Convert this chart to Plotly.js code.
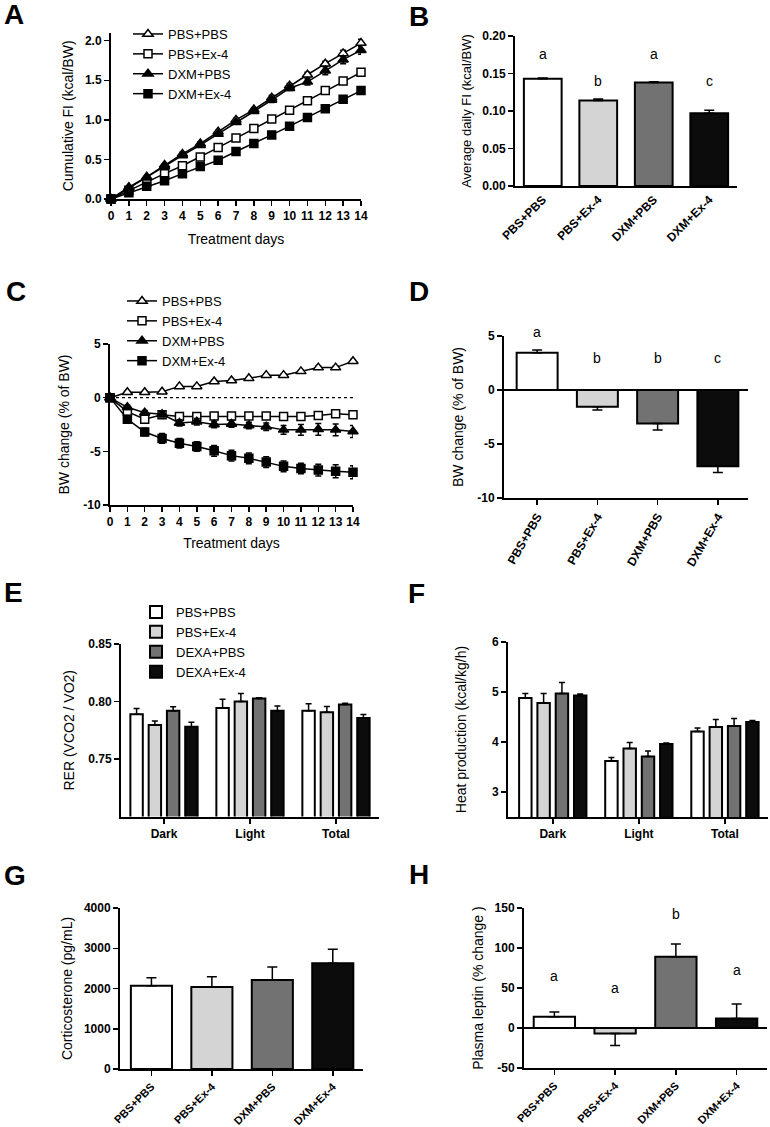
<!DOCTYPE html>
<html><head><meta charset="utf-8">
<script src="https://cdn.plot.ly/plotly-3.0.1.min.js"></script>
<style>html,body{margin:0;padding:0;background:#fff}#chart{width:770px;height:1127px}</style>
</head><body><div id="chart"></div>
<script>
// ---------------- DATA ----------------
const days = [0,1,2,3,4,5,6,7,8,9,10,11,12,13,14];
const dayTickText = ['0','1','2','3','4','5','6','7','8','9','10','11','12','13','14'];
const lineNames = ['PBS+PBS','PBS+Ex-4','DXM+PBS','DXM+Ex-4'];
const groups = ['PBS+PBS','PBS+Ex-4','DXM+PBS','DXM+Ex-4'];
const calNames = ['PBS+PBS','PBS+Ex-4','DEXA+PBS','DEXA+Ex-4'];
const periods = ['Dark','Light','Total'];

// A: cumulative food intake (kcal/BW)
const A_pbs_pbs = [0,0.15,0.28,0.43,0.57,0.70,0.85,1.00,1.13,1.28,1.43,1.57,1.71,1.84,1.97];
const A_pbs_ex4 = [0,0.11,0.21,0.32,0.42,0.53,0.65,0.77,0.89,1.01,1.12,1.24,1.37,1.49,1.60];
const A_dxm_pbs = [0,0.14,0.27,0.41,0.55,0.68,0.82,0.97,1.11,1.25,1.40,1.48,1.62,1.76,1.88];
const A_dxm_ex4 = [0,0.08,0.16,0.23,0.32,0.41,0.49,0.60,0.70,0.81,0.92,1.03,1.14,1.26,1.37];
const A_err_pbs_pbs = [0,0.01,0.01,0.01,0.02,0.02,0.02,0.02,0.02,0.03,0.03,0.03,0.03,0.04,0.05];
const A_err_pbs_ex4 = [0,0.01,0.01,0.01,0.01,0.01,0.01,0.02,0.02,0.02,0.02,0.02,0.02,0.02,0.03];
const A_err_dxm_pbs = [0,0.01,0.01,0.01,0.02,0.02,0.02,0.02,0.02,0.03,0.03,0.04,0.05,0.05,0.05];
const A_err_dxm_ex4 = [0,0.01,0.01,0.01,0.01,0.01,0.01,0.02,0.02,0.02,0.02,0.02,0.03,0.03,0.04];

// B: average daily FI
const B_vals = [0.143,0.114,0.138,0.097];
const B_err = [0.001,0.002,0.001,0.004];
const B_letters = ['a','b','a','c'];
const B_letter_y = [0.189,0.153,0.189,0.153];

// C: BW change (% of BW)
const C_pbs_pbs = [0,0.5,0.5,0.55,1.05,1.05,1.5,1.6,1.8,2.1,2.1,2.45,2.8,2.8,3.4];
const C_pbs_ex4 = [0,-1.3,-2.0,-1.6,-1.75,-1.75,-1.7,-1.7,-1.7,-1.7,-1.75,-1.75,-1.65,-1.5,-1.6];
const C_dxm_pbs = [0,-0.9,-1.4,-1.55,-2.35,-2.25,-2.5,-2.45,-2.6,-2.7,-3.0,-3.0,-2.95,-3.0,-3.15];
const C_dxm_ex4 = [0,-2.0,-3.2,-3.8,-4.25,-4.55,-4.95,-5.4,-5.65,-6.0,-6.4,-6.6,-6.75,-6.85,-6.95];
const C_err_pbs_pbs = [0,0.1,0.1,0.1,0.1,0.1,0.1,0.1,0.1,0.1,0.1,0.1,0.15,0.15,0.15];
const C_err_pbs_ex4 = [0,0.2,0.2,0.2,0.2,0.2,0.2,0.2,0.2,0.2,0.2,0.2,0.25,0.25,0.25];
const C_err_dxm_pbs = [0,0.2,0.2,0.25,0.3,0.3,0.3,0.3,0.3,0.35,0.4,0.5,0.55,0.55,0.55];
const C_err_dxm_ex4 = [0,0.3,0.35,0.45,0.45,0.45,0.5,0.5,0.5,0.5,0.5,0.5,0.55,0.6,0.6];
const C_yticks = [-10,-5,0,5];
const C_yticktext = ['-10','-5','0','5'];

// D: BW change bars
const D_vals = [3.45,-1.55,-3.1,-7.05];
const D_err = [0.25,0.3,0.6,0.6];
const D_letters = ['a','b','b','c'];
const D_letter_y = [6.3,3.9,3.9,3.9];

// E: RER
const E_pbs_pbs = [0.789,0.7944,0.792];
const E_pbs_ex4 = [0.7795,0.800,0.7906];
const E_dxa_pbs = [0.792,0.8026,0.7974];
const E_dxa_ex4 = [0.778,0.792,0.7857];
const E_err_pbs_pbs = [0.005,0.0076,0.006];
const E_err_pbs_ex4 = [0.0035,0.007,0.005];
const E_err_dxa_pbs = [0.0035,0.0006,0.001];
const E_err_dxa_ex4 = [0.004,0.004,0.003];

// F: Heat production
const F_pbs_pbs = [4.88,3.62,4.21];
const F_pbs_ex4 = [4.78,3.87,4.30];
const F_dxa_pbs = [4.97,3.71,4.32];
const F_dxa_ex4 = [4.93,3.96,4.40];
const F_err_pbs_pbs = [0.09,0.07,0.07];
const F_err_pbs_ex4 = [0.19,0.12,0.15];
const F_err_dxa_pbs = [0.22,0.11,0.15];
const F_err_dxa_ex4 = [0.03,0.02,0.03];

// G: Corticosterone
const G_vals = [2070,2037,2212,2628];
const G_err = [195,255,320,350];

// H: Plasma leptin
const H_vals = [14,-7,89,12];
const H_err = [6,15,16,18];
const H_letters = ['a','a','b','a'];
const H_letter_y = [53,38,130,60];
const H_yticks = [-50,0,50,100,150];
const H_yticktext = ['-50','0','50','100','150'];

// ---------------- STYLE ----------------
const groupColors = ['#ffffff','#d4d4d4','#727272','#0c0c0c'];
const FONT = 'Liberation Sans, Arial, sans-serif';
const W = 770, H = 1127;
const px = v => v / W;
const py = v => 1 - v / H;
const xdom = (l, r) => [px(l), px(r)];
const ydom = (t, b) => [py(b), py(t)];
const tickFont = {family: FONT, size: 12, color: '#000', weight: 'bold'};
const rotFont = {family: FONT, size: 12, color: '#000', weight: 'bold'};
const rotFontSmall = {family: FONT, size: 11, color: '#000', weight: 'bold'};
const titleFont = {family: FONT, size: 14, color: '#000'};

function axis(extra) {
  return Object.assign({
    showline: true, linecolor: '#000', linewidth: 2,
    ticks: 'outside', ticklen: 5, tickwidth: 1.5, tickcolor: '#000',
    showgrid: false, zeroline: false, tickfont: tickFont, fixedrange: true
  }, extra);
}

function lineTrace(x, y, err, name, symbol, fill, xa, ya, legend) {
  return {
    type: 'scatter', mode: 'lines+markers', x, y, name, xaxis: xa, yaxis: ya,
    legend, showlegend: true, cliponaxis: false,
    line: {color: '#000', width: 1.5},
    marker: {symbol, size: symbol.indexOf('square') === 0 ? 8 : 9, color: fill, line: {color: '#000', width: 1.5}},
    error_y: {type: 'data', array: err, visible: true, color: '#000', thickness: 1.5, width: 3}
  };
}

function singleBars(vals, err, xa, ya) {
  return {
    type: 'bar', x: groups, y: vals, xaxis: xa, yaxis: ya, showlegend: false,
    width: 0.68, offset: -0.34,
    marker: {color: groupColors, line: {color: '#000', width: 2}},
    error_y: {type: 'data', symmetric: false, visible: true,
      array: vals.map((v, i) => v >= 0 ? err[i] : 0),
      arrayminus: vals.map((v, i) => v < 0 ? err[i] : 0),
      color: '#000', thickness: 1.5, width: 5}
  };
}

function groupBar(vals, err, name, ci, xa, ya, showlegend) {
  return {
    type: 'bar', x: periods, y: vals, name, xaxis: xa, yaxis: ya,
    showlegend, legend: 'legend3',
    marker: {color: groupColors[ci], line: {color: '#000', width: 2}},
    error_y: {type: 'data', symmetric: false, visible: true, array: err,
      arrayminus: vals.map(() => 0), color: '#000', thickness: 1.5, width: 3}
  };
}

const sym = ['triangle-up', 'square', 'triangle-up', 'square'];
const fills = ['#ffffff', '#ffffff', '#000000', '#000000'];

const traces = [
  lineTrace(days, A_pbs_pbs, A_err_pbs_pbs, lineNames[0], sym[0], fills[0], 'x', 'y', 'legend'),
  lineTrace(days, A_pbs_ex4, A_err_pbs_ex4, lineNames[1], sym[1], fills[1], 'x', 'y', 'legend'),
  lineTrace(days, A_dxm_pbs, A_err_dxm_pbs, lineNames[2], sym[2], fills[2], 'x', 'y', 'legend'),
  lineTrace(days, A_dxm_ex4, A_err_dxm_ex4, lineNames[3], sym[3], fills[3], 'x', 'y', 'legend'),
  singleBars(B_vals, B_err, 'x2', 'y2'),
  lineTrace(days, C_pbs_pbs, C_err_pbs_pbs, lineNames[0], sym[0], fills[0], 'x3', 'y3', 'legend2'),
  lineTrace(days, C_pbs_ex4, C_err_pbs_ex4, lineNames[1], sym[1], fills[1], 'x3', 'y3', 'legend2'),
  lineTrace(days, C_dxm_pbs, C_err_dxm_pbs, lineNames[2], sym[2], fills[2], 'x3', 'y3', 'legend2'),
  lineTrace(days, C_dxm_ex4, C_err_dxm_ex4, lineNames[3], sym[3], fills[3], 'x3', 'y3', 'legend2'),
  singleBars(D_vals, D_err, 'x4', 'y4'),
  groupBar(E_pbs_pbs, E_err_pbs_pbs, calNames[0], 0, 'x5', 'y5', true),
  groupBar(E_pbs_ex4, E_err_pbs_ex4, calNames[1], 1, 'x5', 'y5', true),
  groupBar(E_dxa_pbs, E_err_dxa_pbs, calNames[2], 2, 'x5', 'y5', true),
  groupBar(E_dxa_ex4, E_err_dxa_ex4, calNames[3], 3, 'x5', 'y5', true),
  groupBar(F_pbs_pbs, F_err_pbs_pbs, calNames[0], 0, 'x6', 'y6', false),
  groupBar(F_pbs_ex4, F_err_pbs_ex4, calNames[1], 1, 'x6', 'y6', false),
  groupBar(F_dxa_pbs, F_err_dxa_pbs, calNames[2], 2, 'x6', 'y6', false),
  groupBar(F_dxa_ex4, F_err_dxa_ex4, calNames[3], 3, 'x6', 'y6', false),
  singleBars(G_vals, G_err, 'x7', 'y7'),
  singleBars(H_vals, H_err, 'x8', 'y8')
];

const layout = {
  width: W, height: H, margin: {l: 0, r: 0, t: 0, b: 0},
  paper_bgcolor: '#fff', plot_bgcolor: 'rgba(0,0,0,0)',
  barmode: 'group', bargap: 0.15, bargroupgap: 0.32,
  showlegend: true,
  // A
  xaxis: axis({domain: xdom(111, 361), anchor: 'y', range: [0, 14], tickvals: days, ticktext: dayTickText,
    title: {text: 'Treatment days', font: titleFont, standoff: 12}}),
  yaxis: axis({domain: ydom(32.8, 199), anchor: 'x', range: [0, 2.1], tickvals: [0, 0.5, 1, 1.5, 2], tickformat: '.1f',
    title: {text: 'Cumulative FI (kcal/BW)', font: titleFont, standoff: 8}}),
  // B
  xaxis2: axis({domain: xdom(515, 737), anchor: 'y2', type: 'category', range: [-0.5, 3.5], ticks: '', tickangle: -45,
    tickfont: rotFont}),
  yaxis2: axis({domain: ydom(36, 186), anchor: 'x2', range: [0, 0.2], tickvals: [0, 0.05, 0.1, 0.15, 0.2], tickformat: '.2f',
    title: {text: 'Average daily FI (kcal/BW)', font: {family: FONT, size: 13, color: '#000'}, standoff: 8}}),
  // C
  xaxis3: axis({domain: xdom(110, 353), anchor: 'y3', range: [0, 14], tickvals: days, ticktext: dayTickText,
    title: {text: 'Treatment days', font: titleFont, standoff: 10}}),
  yaxis3: axis({domain: ydom(344, 505), anchor: 'x3', range: [-10, 5], tickvals: C_yticks, ticktext: C_yticktext,
    title: {text: 'BW change (% of BW)', font: titleFont, standoff: 10}}),
  // D
  xaxis4: axis({domain: xdom(504, 748), anchor: 'y4', type: 'category', range: [-0.55, 3.5], tickangle: -60,
    tickfont: rotFont}),
  yaxis4: axis({domain: ydom(336, 498), anchor: 'x4', range: [-10, 5], tickvals: C_yticks, ticktext: C_yticktext,
    zeroline: true, zerolinecolor: '#000', zerolinewidth: 2,
    title: {text: 'BW change (% of BW)', font: titleFont, standoff: 10}}),
  // E
  xaxis5: axis({domain: xdom(121, 379), anchor: 'y5', type: 'category', range: [-0.5, 2.5]}),
  yaxis5: axis({domain: ydom(644, 816.5), anchor: 'x5', range: [0.70, 0.85], tickvals: [0.75, 0.8, 0.85], tickformat: '.2f',
    title: {text: 'RER (VCO2 / VO2)', font: titleFont, standoff: 10}}),
  // F
  xaxis6: axis({domain: xdom(508, 768), anchor: 'y6', type: 'category', range: [-0.52, 2.5]}),
  yaxis6: axis({domain: ydom(642, 817), anchor: 'x6', range: [2.5, 6], tickvals: [3, 4, 5, 6],
    title: {text: 'Heat production (kcal/kg/h)', font: titleFont, standoff: 22}}),
  // G
  xaxis7: axis({domain: xdom(120, 363), anchor: 'y7', type: 'category', range: [-0.52, 3.5], tickangle: -45,
    tickfont: rotFontSmall}),
  yaxis7: axis({domain: ydom(908, 1069), anchor: 'x7', range: [0, 4000], tickvals: [0, 1000, 2000, 3000, 4000],
    title: {text: 'Corticosterone (pg/mL)', font: titleFont, standoff: 8}}),
  // H
  xaxis8: axis({domain: xdom(524, 767), anchor: 'y8', type: 'category', range: [-0.5, 3.5], tickangle: -45,
    tickfont: rotFontSmall}),
  yaxis8: axis({domain: ydom(908, 1068), anchor: 'x8', range: [-50, 150], tickvals: H_yticks, ticktext: H_yticktext,
    zeroline: true, zerolinecolor: '#000', zerolinewidth: 2,
    title: {text: 'Plasma leptin (% change )', font: titleFont, standoff: 8}}),
  shapes: [{type: 'line', xref: 'x3', yref: 'y3', x0: days[0], x1: days[days.length - 1], y0: 0, y1: 0,
    line: {color: '#000', width: 1.2, dash: 'dot'}, layer: 'below'}]
};

const legendBase = {
  bgcolor: 'rgba(0,0,0,0)', borderwidth: 0, xanchor: 'left', yanchor: 'top',
  font: {family: FONT, size: 13, color: '#000'}, traceorder: 'normal'
};
layout.legend = Object.assign({}, legendBase, {x: px(128), y: py(19)});
layout.legend2 = Object.assign({}, legendBase, {x: px(122), y: py(286)});
layout.legend3 = Object.assign({}, legendBase, {x: px(136), y: py(597)});

const panelLetters = [
  ['A', 2, 15], ['B', 407, 16], ['C', 4, 291], ['D', 407, 292],
  ['E', 2, 592], ['F', 406, 593], ['G', 2, 875], ['H', 407, 874]
];
const annotations = panelLetters.map(([t, x, y]) => ({
  text: t, xref: 'paper', yref: 'paper', x: px(x), y: py(y), xanchor: 'left', yanchor: 'middle',
  showarrow: false, font: {family: FONT, size: 28, color: '#000', weight: 'bold'}
}));
// significance letters: x on the category axis, y converted from data units to paper units
function letterAnn(letters, ys, xa, yaName) {
  const ax = layout[yaName];
  const d = ax.domain, r = ax.range;
  letters.forEach((t, i) => annotations.push({
    text: t, x: groups[i], xref: xa, yref: 'paper',
    y: d[0] + (ys[i] - r[0]) / (r[1] - r[0]) * (d[1] - d[0]),
    showarrow: false, font: {family: FONT, size: 14, color: '#000'}
  }));
}
letterAnn(B_letters, B_letter_y, 'x2', 'yaxis2');
letterAnn(D_letters, D_letter_y, 'x4', 'yaxis4');
letterAnn(H_letters, H_letter_y, 'x8', 'yaxis8');
layout.annotations = annotations;

Plotly.newPlot('chart', traces, layout, {staticPlot: true, displayModeBar: false});
</script>
</body></html>
